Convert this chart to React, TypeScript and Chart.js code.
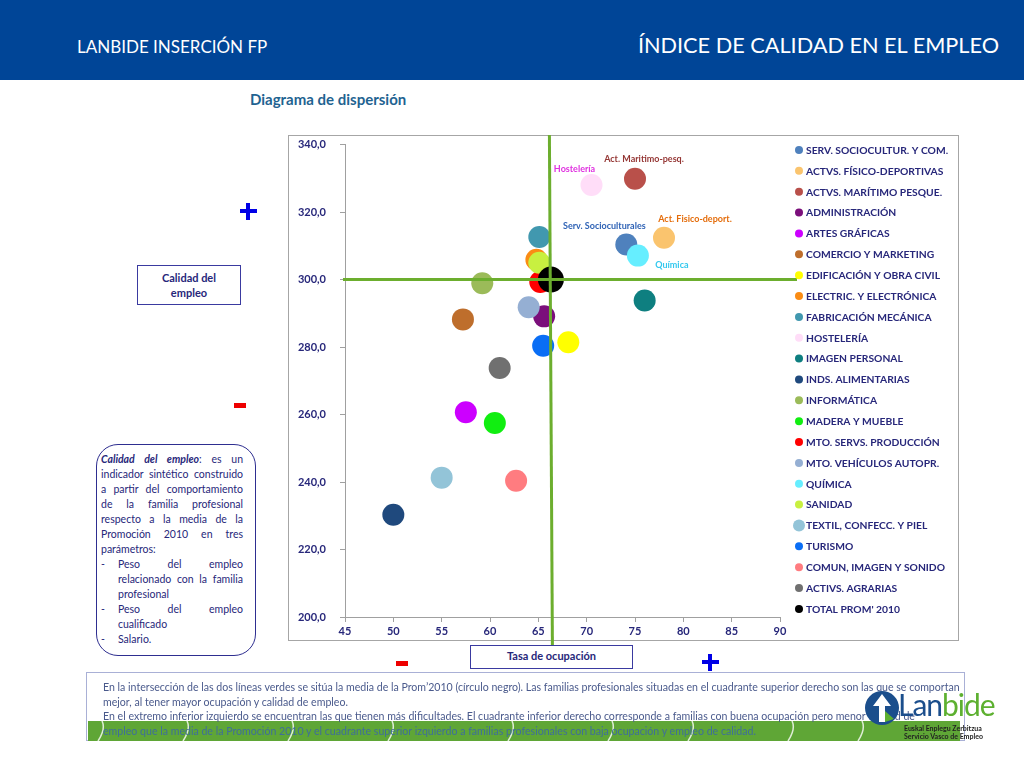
import React, { useEffect, useRef } from 'react';
import { Chart, registerables } from 'chart.js';
Chart.register(...registerables);

const families = [
  'SERV. SOCIOCULTUR. Y COM.', 'ACTVS. FÍSICO-DEPORTIVAS', 'ACTVS. MARÍTIMO PESQUE.', 'ADMINISTRACIÓN',
  'ARTES GRÁFICAS', 'COMERCIO Y MARKETING', 'EDIFICACIÓN Y OBRA CIVIL', 'ELECTRIC. Y ELECTRÓNICA',
  'FABRICACIÓN MECÁNICA', 'HOSTELERÍA', 'IMAGEN PERSONAL', 'INDS. ALIMENTARIAS', 'INFORMÁTICA',
  'MADERA Y MUEBLE', 'MTO. SERVS. PRODUCCIÓN', 'MTO. VEHÍCULOS AUTOPR.', 'QUÍMICA', 'SANIDAD',
  'TEXTIL, CONFECC. Y PIEL', 'TURISMO', 'COMUN, IMAGEN Y SONIDO', 'ACTIVS. AGRARIAS', "TOTAL PROM' 2010",
];
const tasaOcupacion = [74.1, 78.0, 75.0, 65.6, 57.5, 57.2, 68.1, 64.8, 65.1, 70.5, 76.0, 50.0, 59.2, 60.5, 65.2, 64.0, 75.3, 65.1, 55.0, 65.5, 62.7, 61.0, 66.3];
const calidadEmpleo = [310.4, 312.4, 329.9, 289.1, 260.7, 288.2, 281.4, 305.9, 312.6, 328.0, 293.8, 230.3, 298.9, 257.5, 299.3, 291.8, 307.1, 305.0, 241.3, 280.4, 240.4, 273.8, 300.0];
const colors = [
  '#4F81BD', '#FAC46E', '#B9504A', '#7B0F7B', '#CC00FF', '#BE6E2C', '#FFFF00', '#FA8C14',
  '#4198AF', '#FFDDF8', '#0E7F80', '#1F497D', '#9BBB59', '#11EE11', '#FF0000', '#95AFD3',
  '#66EEFF', '#C8F040', '#93C4D8', '#0A6EF5', '#FF7C80', '#707070', '#000000',
];
const mediaOcupacion = 66.3;
const mediaCalidad = 300.0;
const xTicks = { min: 45, max: 90, step: 5 };
const yTicks = { min: 200, max: 340, step: 20 };

const callouts = [
  { index: 9, text: 'Hostelería', color: '#E033E0', dx: -17, dy: -16 },
  { index: 2, text: 'Act. Maritimo-pesq.', color: '#953735', dx: 9, dy: -20 },
  { index: 0, text: 'Serv. Socioculturales', color: '#2E62B5', dx: -22, dy: -18 },
  { index: 1, text: 'Act. Fisico-deport.', color: '#E46C0A', dx: 31, dy: -19 },
  { index: 16, text: 'Química', color: '#33C8EE', dx: 34, dy: 9 },
];

const NAVY = '#27277A';
const FONT = 'Lato, "Open Sans", sans-serif';
const CANVAS_TOP = 124;
const BOX_Y = 135 - CANVAS_TOP;

function ChartCanvas() {
  const ref = useRef<HTMLCanvasElement | null>(null);
  useEffect(() => {
    if (!ref.current) return;
    const overlay = {
      id: 'overlay',
      beforeDraw(chart: any) {
        const ctx = chart.ctx;
        ctx.save();
        ctx.fillStyle = '#ffffff';
        ctx.fillRect(0, 0, chart.width, chart.height);
        ctx.strokeStyle = '#A6A6A6';
        ctx.lineWidth = 1;
        ctx.strokeRect(8.5, BOX_Y + 0.5, 670, 505);
        ctx.restore();
      },
      afterDatasetsDraw(chart: any) {
        const ctx = chart.ctx;
        const xs = chart.scales.x;
        const ys = chart.scales.y;
        const mx = xs.getPixelForValue(mediaOcupacion);
        const my = ys.getPixelForValue(mediaCalidad);
        ctx.save();
        ctx.strokeStyle = '#6CAE2E';
        ctx.lineWidth = 3;
        ctx.beginPath();
        ctx.moveTo(mx - 1.5, BOX_Y);
        ctx.lineTo(mx + 1.5, BOX_Y + 510);
        ctx.stroke();
        ctx.beginPath();
        ctx.moveTo(xs.left - 2, my);
        ctx.lineTo(517, my);
        ctx.stroke();

        ctx.font = 'bold 9px ' + FONT;
        ctx.textAlign = 'center';
        ctx.textBaseline = 'middle';
        callouts.forEach((c) => {
          const px = xs.getPixelForValue(tasaOcupacion[c.index]);
          const py = ys.getPixelForValue(calidadEmpleo[c.index]);
          ctx.fillStyle = c.color;
          ctx.fillText(c.text, px + c.dx, py + c.dy);
        });

        ctx.font = 'bold 10.3px ' + FONT;
        ctx.textAlign = 'left';
        families.forEach((f, i) => {
          const ly = 150 - CANVAS_TOP + i * 20.86;
          ctx.fillStyle = colors[i];
          ctx.beginPath();
          ctx.arc(519, ly, i === 18 ? 6 : 4, 0, Math.PI * 2);
          ctx.fill();
          ctx.fillStyle = NAVY;
          ctx.fillText(f, 526, ly + 0.5);
        });
        ctx.restore();
      },
    };
    const datasets = families.map((f, i) => ({
      label: f,
      data: [{ x: tasaOcupacion[i], y: calidadEmpleo[i] }],
      backgroundColor: colors[i],
      borderWidth: 0,
      pointRadius: i === families.length - 1 ? 13 : 11,
      pointHoverRadius: i === families.length - 1 ? 13 : 11,
      order: families.length - i,
    }));
    const chart = new Chart(ref.current, {
      type: 'scatter',
      data: { datasets },
      options: {
        animation: false,
        responsive: false,
        events: [],
        layout: { padding: { top: 8, right: 190, bottom: 35, left: 0 } },
        plugins: { legend: { display: false }, tooltip: { enabled: false } },
        scales: {
          x: {
            type: 'linear',
            min: xTicks.min,
            max: xTicks.max,
            ticks: { stepSize: xTicks.step, color: NAVY, font: { family: FONT, size: 11, weight: 'bold' }, padding: 3 },
            grid: { drawOnChartArea: false, tickLength: 5, color: '#A0A0A0' },
            border: { color: '#A0A0A0' },
            afterFit: (s: any) => { s.height = 23; },
          },
          y: {
            type: 'linear',
            min: yTicks.min,
            max: yTicks.max,
            ticks: {
              stepSize: yTicks.step,
              color: NAVY,
              font: { family: FONT, size: 11, weight: 'bold' },
              padding: 14,
              callback: (v: any) => Number(v).toFixed(1).replace('.', ','),
            },
            grid: { drawOnChartArea: false, tickLength: 5, color: '#A0A0A0' },
            border: { color: '#A0A0A0' },
            afterFit: (s: any) => { s.width = 65; },
          },
        },
      },
      plugins: [overlay],
    } as any);
    return () => chart.destroy();
  }, []);
  return (
    <canvas
      ref={ref}
      width={690}
      height={551}
      style={{ position: 'absolute', left: 280, top: CANVAS_TOP, width: 690, height: 551 }}
    />
  );
}

const abs = (l: number, t: number, w?: number, h?: number): React.CSSProperties => ({
  position: 'absolute', left: l, top: t, width: w, height: h,
});

function Plus({ cx, cy, size, color }: { cx: number; cy: number; size: number; color: string }) {
  const th = 4;
  return (
    <>
      <div style={{ ...abs(cx - size / 2, cy - th / 2, size, th), background: color }} />
      <div style={{ ...abs(cx - th / 2, cy - size / 2, th, size), background: color }} />
    </>
  );
}
function Minus({ cx, cy }: { cx: number; cy: number }) {
  return <div style={{ ...abs(cx - 6, cy - 2.5, 12, 5), background: '#EE0000' }} />;
}

const leftLines: { text: React.ReactNode; justify: boolean; indent: boolean; dash?: boolean }[] = [
  { text: <><b><i>Calidad del empleo</i></b>: es un</>, justify: true, indent: false },
  { text: 'indicador sintético construido', justify: true, indent: false },
  { text: 'a partir del comportamiento', justify: true, indent: false },
  { text: 'de la familia profesional', justify: true, indent: false },
  { text: 'respecto a la media de la', justify: true, indent: false },
  { text: 'Promoción 2010 en tres', justify: true, indent: false },
  { text: 'parámetros:', justify: false, indent: false },
  { text: 'Peso del empleo', justify: true, indent: true, dash: true },
  { text: 'relacionado con la familia', justify: true, indent: true },
  { text: 'profesional', justify: false, indent: true },
  { text: 'Peso del empleo', justify: true, indent: true, dash: true },
  { text: 'cualificado', justify: false, indent: true },
  { text: 'Salario.', justify: false, indent: true, dash: true },
];

const bottomLines = [
  'En la intersección de las dos líneas verdes se sitúa la media de la Prom’2010 (círculo negro). Las familias profesionales situadas en el cuadrante superior derecho son las que se comportan',
  'mejor, al tener mayor ocupación y calidad de empleo.',
  'En el extremo inferior izquierdo se encuentran las que tienen más dificultades. El cuadrante inferior derecho corresponde a familias  con buena ocupación pero menor calidad de',
  'empleo que la media de la Promoción 2010 y el cuadrante superior izquierdo a familias profesionales  con baja ocupación y empleo de calidad.',
];

export default function App() {
  return (
    <div style={{ position: 'absolute', left: 0, top: 0, width: 1024, height: 768, overflow: 'hidden', background: '#fff', fontFamily: FONT }}>
      <div style={{ ...abs(0, 0, 1024, 80), background: '#004597' }} />
      <div style={{ ...abs(77, 35), color: '#fff', fontSize: 17, whiteSpace: 'nowrap', lineHeight: '24px' }}>LANBIDE INSERCIÓN FP</div>
      <div style={{ position: 'absolute', right: 25, top: 30, color: '#fff', fontSize: 21.7, whiteSpace: 'nowrap', lineHeight: '30px' }}>ÍNDICE DE CALIDAD EN EL EMPLEO</div>
      <div style={{ ...abs(250, 89), color: '#1F6391', fontSize: 15, fontWeight: 'bold', whiteSpace: 'nowrap', lineHeight: '20px' }}>Diagrama de dispersión</div>

      <ChartCanvas />

      <Plus cx={248} cy={211} size={17} color="#0000E6" />
      <Minus cx={240} cy={405} />
      <Minus cx={402} cy={663} />
      <Plus cx={710} cy={662} size={17} color="#0000E6" />

      <div style={{ ...abs(137, 265, 104, 40), boxSizing: 'border-box', border: '1.5px solid #3A3AA0', color: NAVY, fontSize: 11, fontWeight: 'bold', textAlign: 'center', lineHeight: '15px', paddingTop: 4, background: '#fff' }}>
        Calidad del<br />empleo
      </div>

      <div style={{ ...abs(470, 645, 163, 24), boxSizing: 'border-box', border: '1.5px solid #3A3AA0', color: NAVY, fontSize: 11, fontWeight: 'bold', textAlign: 'center', lineHeight: '20px', background: '#fff' }}>
        Tasa de ocupación
      </div>

      <div style={{ ...abs(96, 444, 160, 212), boxSizing: 'border-box', border: '1.5px solid #2E2E90', borderRadius: 22, background: '#fff' }} />
      {leftLines.map((l, i) => (
        <div key={i} style={{ ...abs(l.indent ? 118 : 101, 452 + i * 15, l.indent ? 125 : 142, 15), color: NAVY, fontSize: 10.5, lineHeight: '15px', whiteSpace: 'nowrap', textAlign: l.justify ? 'justify' : 'left', textAlignLast: l.justify ? 'justify' : 'left' } as React.CSSProperties}>
          {l.text}
        </div>
      ))}
      {leftLines.map((l, i) => l.dash ? (
        <div key={'d' + i} style={{ ...abs(101, 452 + i * 15), color: NAVY, fontSize: 10.5, lineHeight: '15px' }}>-</div>
      ) : null)}

      <div style={{ ...abs(86, 672, 879, 69), boxSizing: 'border-box', border: '1px solid #A9B0D6' }} />
      <div style={{ ...abs(88, 721, 872, 20), background: '#5FA636', overflow: 'hidden' }}>
        <svg width={872} height={20} style={{ position: 'absolute', left: 0, top: 0 }}>
          {[10, 95, 200, 300, 420, 520, 600, 700, 770].map((sx, k) => (
            <path key={k} d={`M${sx} 20 Q${sx + 8} 8 ${sx + 4} 0`} stroke="rgba(255,255,255,0.8)" strokeWidth={1.5} fill="none" />
          ))}
        </svg>
      </div>
      {bottomLines.map((t, i) => (
        <div key={i} style={{ ...abs(103, 680 + i * 14.7), color: i === 3 ? '#3F6E9A' : '#4A5A8C', fontSize: 10.6, lineHeight: '14px', whiteSpace: 'nowrap' }}>{t}</div>
      ))}

      <svg width={40} height={40} style={{ position: 'absolute', left: 864, top: 689 }}>
        <circle cx={18} cy={19} r={17} fill="#1B4E8C" />
        <path d="M18 5 L9 17 L15 17 L15 33 L21 33 L21 17 L27 17 Z" fill="#ffffff" />
        <path d="M21 22 L30 30 L21 33 Z" fill="#5DB030" />
      </svg>
      <div style={{ ...abs(898, 686), fontSize: 30, lineHeight: '36px', whiteSpace: 'nowrap', letterSpacing: -1 }}>
        <span style={{ color: '#1B4E8C' }}>Lan</span><span style={{ color: '#5DB030' }}>bide</span>
      </div>
      <div style={{ ...abs(904, 724), fontSize: 7, fontWeight: 'bold', lineHeight: '8px', color: '#222', whiteSpace: 'nowrap' }}>
        Euskal Enplegu Zerbitzua<br />Servicio Vasco de Empleo
      </div>
    </div>
  );
}
